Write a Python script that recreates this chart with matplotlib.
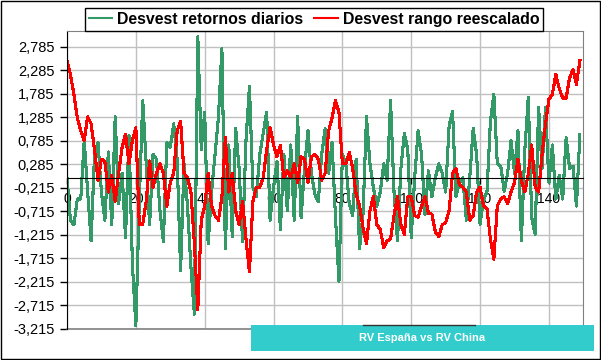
import numpy as np
import matplotlib
matplotlib.use('Agg')
import matplotlib.pyplot as plt
from matplotlib.patches import Rectangle
from matplotlib.lines import Line2D

plt.rcParams['font.family'] = ['Liberation Sans', 'DejaVu Sans']

# ---------------------------------------------------------------------------
# Data (one value per day)
# ---------------------------------------------------------------------------
desvest_retornos = [
    0.0, -0.9, -1.0, -0.45, -0.45, 0.8, -0.3, -1.34, 0.5, 0.75,
    -0.3, -0.9, 0.55, -1.0, 1.3, -0.55, 0.1, -1.27, 0.9, -1.84,
    -3.15, -0.5, 1.64, 0.3, -1.0, 0.5, 0.4, -0.7, -1.35, 0.75,
    0.65, 1.15, 0.4, -1.98, 0.3, -0.6, -1.9, -2.9, 3.0, 0.6,
    1.4, -1.4, -0.3, 0.5, 1.3, 2.75, -1.5, 0.7, -1.25, 1.05,
    0.2, -1.35, 0.8, 1.95, -0.2, -0.4, 0.5, 0.95, 1.4, -0.9,
    -0.2, 0.35, -1.1, 0.5, -0.7, 0.7, -0.9, 1.3, -0.85, 0.2,
    1.0, 0.1, -0.35, -0.5, 0.5, 1.05, 0.1, 0.75, -0.85, -2.2,
    0.5, 0.3, -0.55, -0.8, 0.4, -1.5, -0.77, 1.3, 0.3, -0.2,
    -0.6, -0.3, 0.3, -0.05, 1.64, -0.3, -1.34, 0.2, 0.95, 0.6,
    -1.27, 0.0, 1.0, 0.5, -0.77, 0.15, -0.4, 0.0, 0.3, 0.1,
    -0.3, 1.1, 1.42, -0.4, -0.1, 0.0, -0.9, 0.0, 1.05, 0.5,
    -0.99, -0.45, -0.3, 1.2, 1.78, 0.3, 0.25, -0.28, 0.1, 0.79,
    0.1, 1.0, -1.34, 0.6, 1.71, -0.85, -1.2, 1.5, 0.2, 1.5,
    -0.1, 0.7, -0.45, 0.05, -0.45, 0.86, 0.2, 0.25, -0.6, 0.93,
]

desvest_rango = [
    2.5, 2.2, 1.78, 1.28, 1.0, 0.8, 1.3, 1.15, 0.6, -0.05,
    0.4, 0.35, -0.3, 0.05, -0.5, 0.1, 0.65, 0.93, 0.3, 0.8,
    1.07, -0.99, -0.99, -0.5, 0.36, -0.2, 0.1, 0.3, 0.1, -0.6,
    -0.1, 0.1, 1.0, 1.2, 0.1, 0.0, -0.3, -1.4, -2.8, -0.9,
    -0.6, 0.1, -0.6, -0.8, -0.9, -0.4, 0.86, -0.3, 0.1, -0.7,
    -1.0, -0.5, -1.3, -2.0, -0.5, -0.2, -0.2, 0.0, 0.6, 1.07,
    0.7, 0.45, 0.7, 0.0, 0.15, 0.0, 0.3, -0.1, 0.45, 0.4,
    -0.1, 0.45, 0.5, 0.4, -0.05, 0.1, 1.0, 1.28, 1.64, 1.4,
    0.3, 0.3, 0.54, 0.2, -0.35, -0.6, -1.06, -1.4, -0.7, -0.4,
    -0.99, -1.1, -1.48, -1.34, -1.3, -0.8, -0.4, -1.0, -1.2, -0.4,
    -0.4, -0.8, -0.84, -0.6, -0.4, -0.75, -0.77, -1.15, -1.25, -1.0,
    -0.95, -0.7, 0.1, 0.2, -0.15, -0.2, -0.3, -0.9, -0.8, -0.3,
    -0.2, -0.6, -0.65, -1.3, -1.73, -0.6, -0.45, -0.4, -0.55, -0.3,
    -0.1, 0.4, -0.06, -0.3, 0.08, 0.7, -0.2, -0.3, 0.5, 1.14,
    1.67, 1.78, 2.2, 1.9, 1.7, 1.7, 2.13, 2.3, 1.99, 2.5,
]

dias = np.arange(len(desvest_retornos))

Y_TICKS = np.arange(-3.215, 2.786, 0.5)
X_TICKS = np.arange(0, 141, 20)

GREEN = '#339966'
RED   = '#FF0000'
GRID  = '#C0C0C0'
FRAME = '#808080'

W, H = 601, 360

# ---------------------------------------------------------------------------
# Figure
# ---------------------------------------------------------------------------
fig = plt.figure(figsize=(W / 100, H / 100), dpi=100)
ax = fig.add_axes([67 / W, 1 - 329 / H, (583 - 67) / W, (329 - 31) / H])

# Excel-style jagged 2 px lines
ax.plot(dias, desvest_retornos, color=GREEN, lw=1.5, antialiased=False,
        label='Desvest retornos diarios')
ax.plot(dias, desvest_rango, color=RED, lw=1.5, antialiased=False,
        label='Desvest rango reescalado')

ax.set_xlim(0, 149.9)
ax.set_ylim(-3.215, 3.125)

ax.set_yticks(Y_TICKS)
ax.set_yticklabels([f'{v:.3f}'.replace('.', ',') for v in Y_TICKS], fontsize=10.5)
ax.set_xticks(X_TICKS)
ax.set_xticklabels([str(v) for v in X_TICKS], rotation=90, fontsize=10)

ax.grid(True, color=GRID, lw=1)
ax.set_axisbelow(True)

# x axis crosses at zero, like the Excel original
ax.spines['bottom'].set_position(('data', 0))
ax.spines['bottom'].set_color('black')
ax.spines['left'].set_color('black')
for s in ('top', 'right'):
    ax.spines[s].set_color(FRAME)
ax.axhline(-3.215, color=FRAME, lw=1.2, clip_on=False)

ax.tick_params(axis='y', direction='out', length=5, width=1, pad=4)
ax.tick_params(axis='x', direction='out', length=4.5, width=1, pad=6)

# legend box across the top
leg = fig.legend(loc='center', bbox_to_anchor=(314 / W, 1 - 19.5 / H), ncol=2,
                 frameon=True, fancybox=False, edgecolor='black', framealpha=1,
                 prop={'weight': 'bold', 'size': 11.4},
                 handlelength=1.5, handletextpad=0.3, columnspacing=0.7,
                 borderpad=0.25, borderaxespad=0)
leg.get_frame().set_linewidth(1.0)

# title strip bottom right
fig.add_artist(Rectangle((251 / W, 1 - 351 / H), (594 - 251) / W, 26 / H,
                         transform=fig.transFigure, facecolor='#33CCCC',
                         edgecolor='none'))
fig.text(422.5 / W, 1 - 338 / H, 'RV España vs RV China', color='white',
         weight='bold', fontsize=8, ha='center', va='center')
fig.add_artist(Line2D([363 / W, 475 / W], [1 - 324.5 / H] * 2,
                      transform=fig.transFigure, color='#333333', lw=1))

# outer chart border
fig.add_artist(Rectangle((0.6 / W, 0.8 / H), (W - 1.8) / W, (H - 1.8) / H,
                         transform=fig.transFigure, fill=False,
                         edgecolor='black', lw=1))

fig.savefig('out.png', dpi=100)
